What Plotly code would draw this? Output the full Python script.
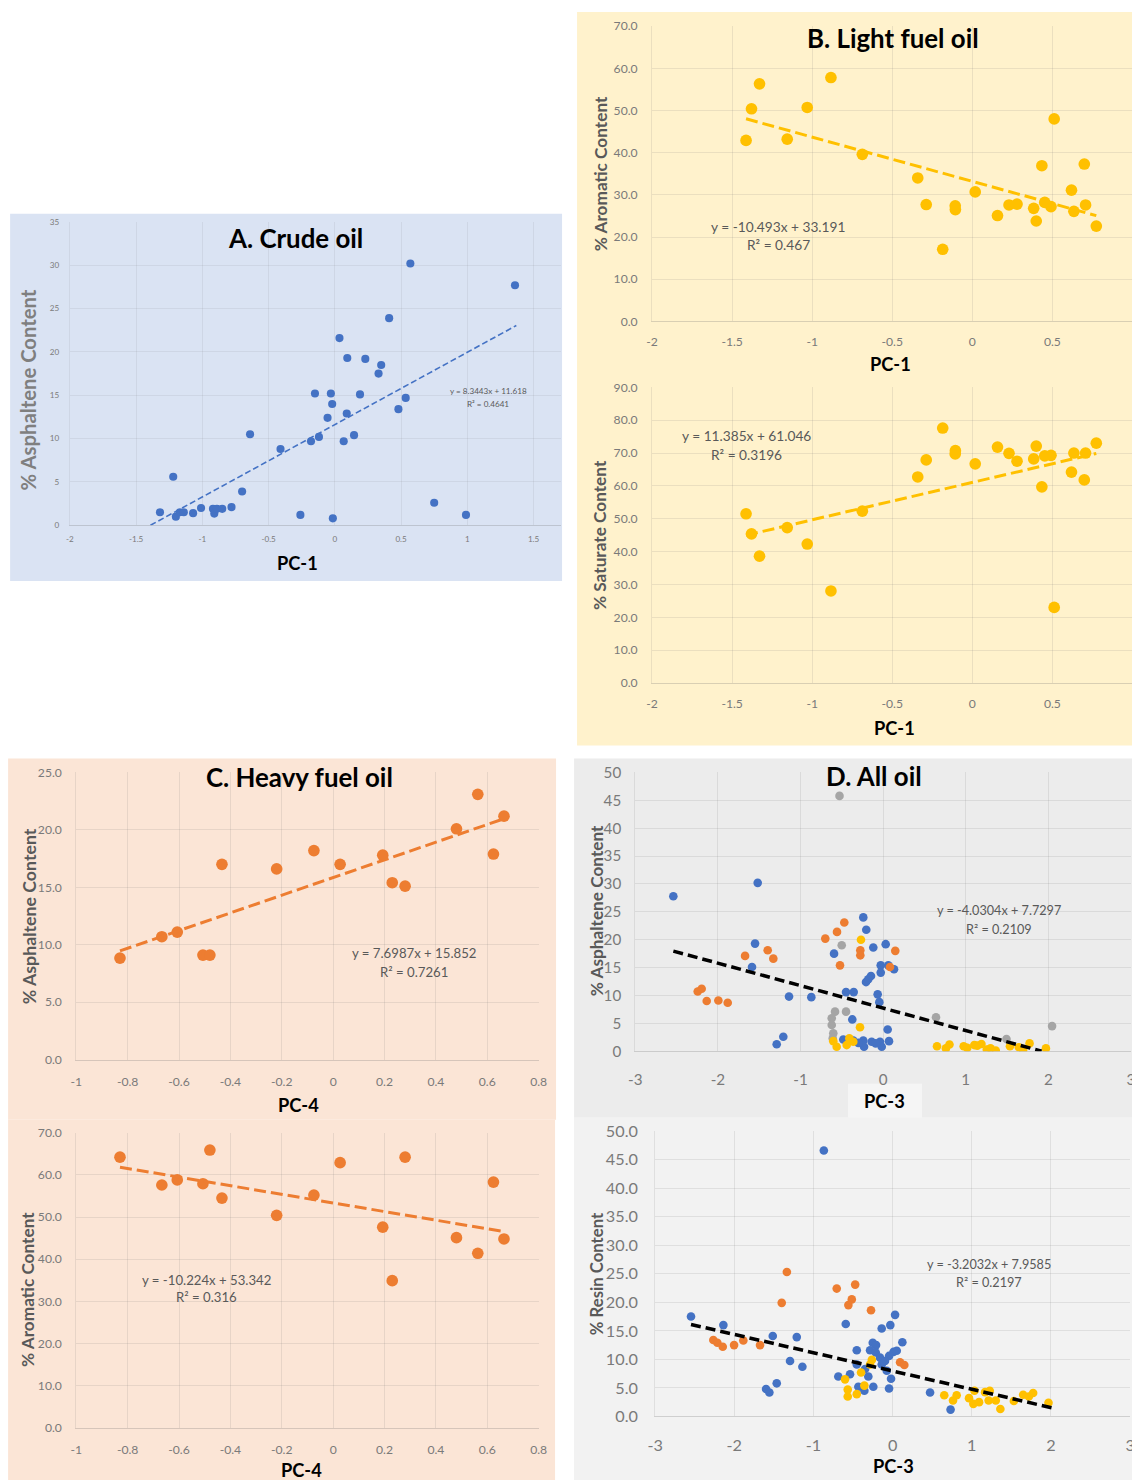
import plotly.graph_objects as go

# ---------------- data ----------------
# A. Crude oil: PC-1 vs % asphaltene
crude_pc1 = [-1.32, -1.22, -1.20, -1.17, -1.14, -1.07, -1.01, -0.92, -0.91, -0.89,
             -0.85, -0.78, -0.70, -0.64, -0.41, -0.26, -0.18, -0.15, -0.12, -0.055,
             -0.03, -0.02, -0.015, 0.035, 0.067, 0.09, 0.094, 0.145, 0.19, 0.23,
             0.33, 0.35, 0.41, 0.48, 0.535, 0.57, 0.75, 0.99, 1.36]
crude_asph = [1.5, 5.6, 1.0, 1.5, 1.5, 1.4, 2.0, 1.9, 1.35, 1.9,
              1.9, 2.1, 3.9, 10.5, 8.8, 1.2, 9.7, 15.2, 10.2, 12.4,
              15.2, 14.0, 0.8, 21.6, 9.7, 12.9, 19.3, 10.4, 15.1, 19.2,
              17.5, 18.5, 23.9, 13.4, 14.7, 30.2, 2.6, 1.2, 27.7]
crude_fit = (8.3443, 11.618, 0.4641)
crude_fit_span = (-1.392, 1.37)

# B. Light fuel oil: PC-1 vs % aromatic / % saturate
light_pc1 = [-1.413, -1.379, -1.329, -1.156, -1.031, -0.883, -0.687, -0.341, -0.288, -0.185,
             -0.107, -0.106, 0.018, 0.157, 0.229, 0.279, 0.383, 0.399, 0.434, 0.452,
             0.491, 0.511, 0.619, 0.634, 0.699, 0.707, 0.774]
light_arom = [42.9, 50.4, 56.3, 43.2, 50.7, 57.8, 39.6, 34.0, 27.7, 17.1,
              27.4, 26.5, 30.7, 25.1, 27.6, 27.8, 26.8, 23.8, 36.9, 28.2,
              27.2, 48.0, 31.1, 26.1, 37.3, 27.6, 22.6]
light_sat = [51.5, 45.4, 38.6, 47.3, 42.3, 28.0, 52.3, 62.7, 67.9, 77.6,
             69.7, 70.7, 66.7, 71.8, 69.9, 67.5, 68.2, 72.1, 59.7, 69.1,
             69.3, 23.0, 64.2, 70.0, 61.8, 70.0, 73.0]
light_arom_fit = (-10.493, 33.191, 0.467)
light_sat_fit = (11.385, 61.046, 0.3196)

# C. Heavy fuel oil: PC-4 vs % asphaltene / % aromatic
heavy_pc4 = [-0.830, -0.667, -0.607, -0.507, -0.480, -0.433, -0.220, -0.075,
             0.027, 0.193, 0.230, 0.280, 0.480, 0.563, 0.624, 0.665]
heavy_asph = [8.84, 10.7, 11.1, 9.1, 9.1, 17.0, 16.6, 18.2,
              17.0, 17.8, 15.4, 15.1, 20.1, 23.1, 17.9, 21.2]
heavy_arom = [64.2, 57.6, 58.8, 57.9, 65.9, 54.5, 50.4, 55.2,
              62.9, 47.6, 34.9, 64.2, 45.1, 41.4, 58.3, 44.8]
heavy_asph_fit = (7.6987, 15.852, 0.7261)
heavy_arom_fit = (-10.224, 53.342, 0.316)

# D. All oil: PC-3 vs % asphaltene
all_crude_pc3 = [-2.539, -1.518, -1.550, -1.587, -1.139, -0.869, -1.288, -1.208, -0.594, -0.449,
                 -0.356, -0.373, -0.240, -0.204, -0.119, 0.031, -0.207, -0.180, -0.147, -0.066,
                 -0.046, -0.029, -0.029, 0.063, 0.132, 0.055, 0.071, -0.482, -0.361, -0.240,
                 -0.139, -0.038, -0.231, -0.017, -0.300, -0.090]
all_crude_asph = [27.8, 30.2, 19.3, 15.1, 9.8, 9.7, 1.25, 2.6, 17.5, 10.6,
                  10.6, 5.7, 24.0, 21.8, 18.6, 19.2, 12.4, 12.9, 13.5, 10.2,
                  8.8, 15.4, 14.1, 15.4, 14.7, 3.9, 1.8, 2.1, 1.9, 1.9,
                  1.7, 1.7, 0.8, 0.8, 1.5, 1.4]
all_heavy_pc3 = [-2.244, -2.196, -2.135, -1.994, -1.881, -1.671, -1.397, -1.329,
                 -0.470, -0.558, -0.700, -0.276, -0.276, -0.522, 0.147, 0.083]
all_heavy_asph = [10.7, 11.2, 9.0, 9.1, 8.7, 17.1, 18.1, 16.6,
                  23.1, 21.4, 20.2, 18.1, 17.2, 15.4, 18.0, 15.1]
all_other_pc3 = [-0.528, -0.501, -0.582, -0.449, -0.622, -0.622, -0.603, -0.610, 0.640, 1.493, 2.045]
all_other_asph = [45.8, 19.0, 7.1, 7.1, 5.9, 4.7, 3.2, 2.3, 6.1, 2.2, 4.5]
all_light_pc3 = [-0.603, -0.562, -0.441, -0.409, -0.361, -0.280, -0.268, 0.652, 0.760, 0.803,
                 0.975, 1.018, 1.104, 1.140, 1.190, 1.255, 1.300, 1.363, 1.535, 1.643,
                 1.694, 1.772, 1.970]
all_light_asph = [1.8, 0.8, 1.1, 2.3, 1.7, 4.3, 20.0, 0.9, 0.5, 1.2,
                  0.9, 0.6, 1.1, 1.0, 1.3, 0.3, 0.5, 0.1, 0.9, 0.7,
                  0.2, 1.4, 0.5]
all_asph_fit = (-4.0304, 7.7297, 0.2109)
all_asph_fit_span = (-2.539, 1.918)

# D. All oil: PC-3 vs % resin
res_crude_pc3 = [-2.547, -2.138, -1.514, -1.211, -1.296, -1.140, -1.599, -1.557, -1.464, -0.869,
                 0.031, -0.592, -0.029, -0.138, 0.123, -0.251, -0.209, -0.285, -0.453, -0.213,
                 0.011, 0.052, -0.045, -0.159, -0.096, -0.138, -0.453, -0.348, -0.074, -0.020,
                 -0.686, -0.538, -0.307, -0.244, -0.045, -0.357, -0.433, 0.473, 0.732]
res_crude_resin = [17.5, 16.0, 14.1, 13.9, 9.7, 8.7, 4.8, 4.2, 5.8, 46.6,
                   17.8, 16.2, 16.0, 15.4, 13.0, 12.9, 12.5, 11.6, 11.6, 11.2,
                   11.3, 11.5, 10.6, 10.3, 9.7, 9.1, 9.1, 8.3, 8.0, 6.6,
                   7.0, 7.4, 7.0, 5.2, 4.9, 4.5, 5.2, 4.2, 1.2]
res_heavy_pc3 = [-2.265, -2.214, -2.146, -2.003, -1.886, -1.675, -1.401, -1.336,
                 -0.706, -0.473, -0.516, -0.559, -0.273, 0.094, 0.148]
res_heavy_resin = [13.4, 12.9, 12.2, 12.5, 13.3, 12.5, 19.9, 25.3,
                   22.4, 23.1, 20.5, 19.5, 18.6, 9.5, 9.0]
res_light_pc3 = [-0.263, -0.285, -0.399, -0.601, -0.357, -0.567, -0.567, -0.453, 0.652, 0.763,
                 0.809, 0.965, 1.020, 1.092, 1.034, 1.168, 1.227, 1.213, 1.303, 1.361,
                 1.532, 1.649, 1.721, 1.775, 1.969]
res_light_resin = [9.9, 9.1, 7.7, 6.5, 5.4, 4.7, 3.5, 3.9, 3.7, 2.8,
                   3.7, 3.2, 2.2, 2.5, 4.5, 4.25, 4.5, 2.8, 2.8, 1.3,
                   2.7, 3.8, 3.5, 4.1, 2.4]
res_fit = (-3.2032, 7.9585, 0.2197)
res_fit_span = (-2.547, 2.047)

# tick labels
ticks_a_x = [-2, -1.5, -1, -0.5, 0, 0.5, 1, 1.5]
ticks_a_y = [0, 5, 10, 15, 20, 25, 30, 35]
ticks_b_x = [-2, -1.5, -1, -0.5, 0, 0.5, 1]
ticks_b_top_y = [0, 10, 20, 30, 40, 50, 60, 70]
ticks_b_bot_y = [0, 10, 20, 30, 40, 50, 60, 70, 80, 90]
ticks_c_x = [-1, -0.8, -0.6, -0.4, -0.2, 0, 0.2, 0.4, 0.6, 0.8]
ticks_c_top_y = [0, 5, 10, 15, 20, 25]
ticks_c_bot_y = [0, 10, 20, 30, 40, 50, 60, 70]
ticks_d_x = [-3, -2, -1, 0, 1, 2, 3]
ticks_d_y = [0, 5, 10, 15, 20, 25, 30, 35, 40, 45, 50]

BLUE, ORANGE, YELLOW, GREY = "#4472c4", "#ed7d31", "#ffc000", "#a5a5a5"
FONT = "Lato, 'Open Sans', sans-serif"

# Layout positions below are given in sheet pixels (1132 x 1481 sheet).
# The page body keeps its 8px margin; the sheet is mapped onto the figure
# through that margin and a slight stretch so it fills the whole page.
W, H = 1132, 1481
PAD = 8
SX, SY = (W + 2 * PAD) / W, (H + 2 * PAD) / H
FW, FH = W + PAD, H + PAD
K = SX  # size stretch for fonts and markers

TITLE_SIZE = 25.5
AXIS_TITLE_SIZE = 18


def lab(v, fmt):
    return fmt.format(v).replace("\u2212", "-")


fig = go.Figure()
shapes = []
annotations = []


def fx(px):
    return (px * SX - PAD) / FW


def fy(py):
    return 1 - (py * SY - PAD) / FH


def clamp(v):
    return max(0.0, min(1.0, v))


grid = "rgba(110,110,110,0.14)"
axline = "rgba(110,110,110,0.26)"


def add_axes(i, xpx, ypx, xrng, yrng, xt, xfmt, yt, yfmt, fsize, xstand, ystand, gcol=grid):
    xa = "xaxis" if i == 1 else f"xaxis{i}"
    ya = "yaxis" if i == 1 else f"yaxis{i}"
    ref = "" if i == 1 else str(i)
    a, b = xpx
    x0, x1 = xrng
    d0, d1 = fx(a), fx(b)
    if d1 > 1.0:  # the plot runs past the sheet edge: cut the range there
        x1 = x0 + (1.0 - d0) / (d1 - d0) * (x1 - x0)
        d1 = 1.0
    top, bottom = ypx
    fig.layout[xa] = dict(
        domain=[clamp(d0), d1], range=[x0, x1], anchor="y" + ref,
        tickvals=xt, ticktext=[lab(v, xfmt) for v in xt],
        showgrid=True, gridcolor=gcol, gridwidth=1, zeroline=False,
        showline=True, linecolor=axline, linewidth=1,
        ticks="", tickfont=dict(family=FONT, size=fsize * K, color="#7a7a7a"),
        ticklabelstandoff=xstand, fixedrange=True,
    )
    fig.layout[ya] = dict(
        domain=[clamp(fy(bottom)), clamp(fy(top))], range=list(yrng), anchor="x" + ref,
        tickvals=yt, ticktext=[lab(v, yfmt) for v in yt],
        showgrid=True, gridcolor=gcol, gridwidth=1, zeroline=False,
        showline=True, linecolor=gcol, linewidth=1,
        ticks="", tickfont=dict(family=FONT, size=fsize * K, color="#7a7a7a"),
        ticklabelstandoff=ystand, fixedrange=True,
    )
    return "x" + ref, "y" + ref


def scatter(xs, ys, color, size, axes):
    fig.add_trace(go.Scatter(x=xs, y=ys, mode="markers", xaxis=axes[0], yaxis=axes[1],
                             marker=dict(color=color, size=size * K, line=dict(width=0)),
                             showlegend=False, hoverinfo="x+y"))


def trend(fit, x0, x1, color, width, dash, axes):
    m, c, _ = fit
    fig.add_trace(go.Scatter(x=[x0, x1], y=[m * x0 + c, m * x1 + c], mode="lines",
                             xaxis=axes[0], yaxis=axes[1],
                             line=dict(color=color, width=width, dash=dash),
                             showlegend=False, hoverinfo="skip"))


def text(x, y, s, size, color="#595959", bold=False, angle=0):
    annotations.append(dict(
        x=fx(x), y=fy(y), xref="paper", yref="paper", showarrow=False,
        text=f"<b>{s}</b>" if bold else s, textangle=angle,
        xanchor="center", yanchor="middle",
        font=dict(family=FONT, size=size * K, color=color)))


def equation(fit, x, y, y2, size):
    m, c, r2 = fit
    sign = "+" if c >= 0 else "-"
    text(x, y, f"y = {m:g}x {sign} {abs(c):g}", size)
    text(x, y2, f"R\u00b2 = {r2:g}", size)


def panel_bg(x0, y0, x1, y1, color):
    shapes.append(dict(type="rect", xref="paper", yref="paper", layer="below",
                       x0=clamp(fx(x0)), x1=clamp(fx(x1)),
                       y0=clamp(fy(y1)), y1=clamp(fy(y0)),
                       fillcolor=color, line=dict(width=0)))


# panel backgrounds
panel_bg(10, 212, 562, 580, "#dae3f3")
panel_bg(577, 10, 1133, 745, "#fff2cc")
panel_bg(8, 758, 556, 1120, "#fbe5d6")
panel_bg(8, 1120, 555, 1482, "#fbe5d6")
panel_bg(574, 758, 1133, 1118, "#ececec")
panel_bg(574, 1118, 1133, 1482, "#f2f2f2")
panel_bg(848, 1084, 922, 1118, "#f5f5f5")

# ---- A. Crude oil ----
axA = add_axes(1, (69.8, 560.9), (220.3, 524.3), (-2, 1.707), (0, 35),
               ticks_a_x, "{:g}", ticks_a_y, "{:g}", 8, 6, 8, "rgba(110,110,110,0.10)")
scatter(crude_pc1, crude_asph, BLUE, 8, axA)
trend(crude_fit, *crude_fit_span, BLUE, 1.6, "6px,3px", axA)
text(295.5, 236, "A. Crude oil", TITLE_SIZE, "#000000", True)
text(297, 562, "PC-1", AXIS_TITLE_SIZE, "#000000", True)
text(28, 389, "% Asphaltene Content", 20, "#7f7f7f", True, -90)
equation(crude_fit, 488, 390, 402.5, 8)

# ---- B. Light fuel oil ----
axB1 = add_axes(2, (652.0, 1132.5), (24, 320), (-2, 1.0), (0, 70),
                ticks_b_x, "{:g}", ticks_b_top_y, "{:.1f}", 12, 9, 11)
scatter(light_pc1, light_arom, YELLOW, 11.5, axB1)
trend(light_arom_fit, min(light_pc1), max(light_pc1), YELLOW, 3, "12px,5px", axB1)
text(893, 36, "B. Light fuel oil", TITLE_SIZE, "#000000", True)
text(890, 363, "PC-1", AXIS_TITLE_SIZE, "#000000", True)
text(600, 172.5, "% Aromatic Content", 17, "#595959", True, -90)
equation(light_arom_fit, 778, 225, 242.5, 13.5)

axB2 = add_axes(3, (652.0, 1132.5), (386, 682.3), (-2, 1.0), (0, 90),
                ticks_b_x, "{:g}", ticks_b_bot_y, "{:.1f}", 12, 9, 11)
scatter(light_pc1, light_sat, YELLOW, 11.5, axB2)
trend(light_sat_fit, min(light_pc1), max(light_pc1), YELLOW, 3, "12px,5px", axB2)
text(894.5, 727, "PC-1", AXIS_TITLE_SIZE, "#000000", True)
text(600, 534, "% Saturate Content", 17, "#595959", True, -90)
equation(light_sat_fit, 746, 434.3, 453.3, 13.5)

# ---- C. Heavy fuel oil ----
axC1 = add_axes(4, (76.2, 538.6), (772, 1059.7), (-1, 0.8), (0, 25),
                ticks_c_x, "{:g}", ticks_c_top_y, "{:.1f}", 12, 11, 11)
scatter(heavy_pc4, heavy_asph, ORANGE, 11.5, axC1)
trend(heavy_asph_fit, min(heavy_pc4), max(heavy_pc4), ORANGE, 3, "12px,5px", axC1)
text(299, 777, "C. Heavy fuel oil", TITLE_SIZE, "#000000", True)
text(298, 1105.5, "PC-4", AXIS_TITLE_SIZE, "#000000", True)
text(29, 916, "% Asphaltene Content", 17.5, "#595959", True, -90)
equation(heavy_asph_fit, 413.5, 953, 972.3, 13)

axC2 = add_axes(5, (76.2, 538.6), (1133, 1428.7), (-1, 0.8), (0, 70),
                ticks_c_x, "{:g}", ticks_c_bot_y, "{:.1f}", 12, 11, 11)
scatter(heavy_pc4, heavy_arom, ORANGE, 11.5, axC2)
trend(heavy_arom_fit, min(heavy_pc4), max(heavy_pc4), ORANGE, 3, "12px,5px", axC2)
text(301.6, 1471, "PC-4", AXIS_TITLE_SIZE, "#000000", True)
text(28, 1290.5, "% Aromatic Content", 17, "#595959", True, -90)
equation(heavy_arom_fit, 206.8, 1280.3, 1298, 13)

# ---- D. All oil ----
axD1 = add_axes(6, (635.2, 1131.0), (772, 1051.3), (-3, 3), (0, 50),
                ticks_d_x, "{:g}", ticks_d_y, "{:g}", 15, 15, 10)
scatter(all_crude_pc3, all_crude_asph, BLUE, 8.5, axD1)
scatter(all_heavy_pc3, all_heavy_asph, ORANGE, 8.5, axD1)
scatter(all_other_pc3, all_other_asph, GREY, 8.5, axD1)
scatter(all_light_pc3, all_light_asph, YELLOW, 8.5, axD1)
trend(all_asph_fit, *all_asph_fit_span, "#000000", 3.5, "10px,5px", axD1)
text(873.6, 776, "D. All oil", TITLE_SIZE, "#000000", True)
text(884.7, 1101.3, "PC-3", AXIS_TITLE_SIZE, "#000000", True)
text(596, 911, "% Asphaltene Content", 17, "#595959", True, -90)
equation(all_asph_fit, 999, 910.3, 929, 12.5)

axD2 = add_axes(7, (655.1, 1130.1), (1131.3, 1417.3), (-3, 3), (0, 50),
                ticks_d_x, "{:g}", ticks_d_y, "{:.1f}", 16, 14, 13)
scatter(res_crude_pc3, res_crude_resin, BLUE, 8.5, axD2)
scatter(res_heavy_pc3, res_heavy_resin, ORANGE, 8.5, axD2)
scatter(res_light_pc3, res_light_resin, YELLOW, 8.5, axD2)
trend(res_fit, *res_fit_span, "#000000", 3.5, "10px,5px", axD2)
text(893.2, 1467.3, "PC-3", AXIS_TITLE_SIZE, "#000000", True)
text(596, 1274.7, "% Resin Content", 16.5, "#595959", True, -90)
equation(res_fit, 988.6, 1264.7, 1282.3, 12.5)

fig.update_layout(
    width=FW, height=FH, autosize=False,
    margin=dict(l=0, r=0, t=0, b=0, pad=0),
    paper_bgcolor="#ffffff", plot_bgcolor="rgba(0,0,0,0)",
    showlegend=False, shapes=shapes, annotations=annotations,
    font=dict(family=FONT),
)

fig.write_html("out.html", config={"displayModeBar": False})
